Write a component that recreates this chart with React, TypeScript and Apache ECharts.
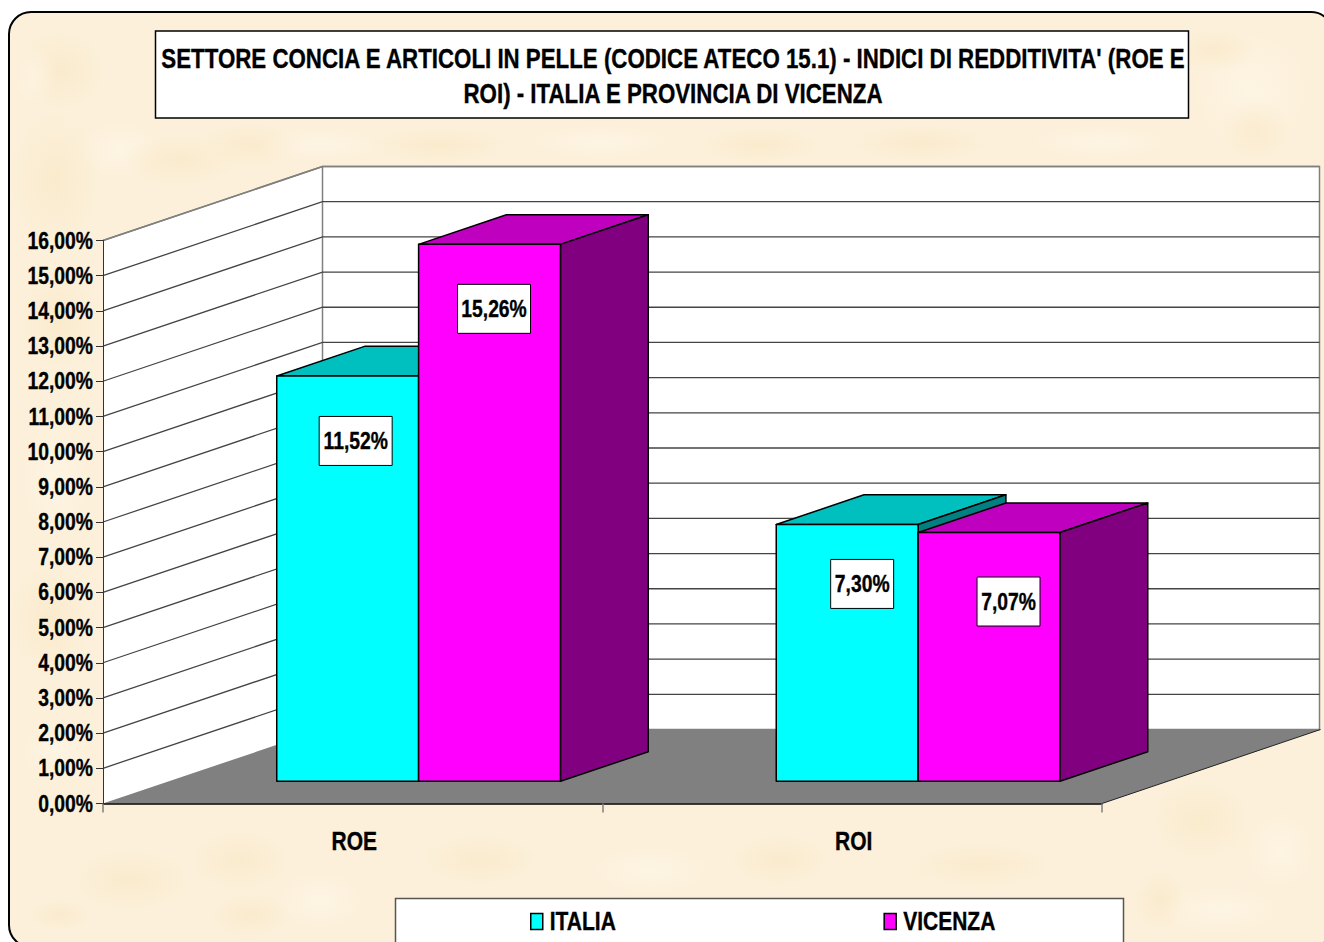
import React, { useEffect, useRef } from "react";
import * as echarts from "echarts";

const categories = ["ROE", "ROI"];
const italiaValues = [11.52, 7.3];
const vicenzaValues = [15.26, 7.07];
const yTicks = [1, 2, 3, 4, 5, 6, 7, 8, 9, 10, 11, 12, 13, 14, 15, 16];
const titleText =
  "SETTORE CONCIA E ARTICOLI IN PELLE (CODICE ATECO 15.1) - INDICI DI REDDITIVITA' (ROE E\nROI) - ITALIA E PROVINCIA DI VICENZA";

const FONT = '"Liberation Sans", Arial, sans-serif';
const SQUEEZE = 0.84;
const TITLE_SQUEEZE = 0.826;
const DX = 219.5;
const DY = -74;
const NEAR = 0.3;
const FAR = 0.7;
const BAR_RATIO = 0.284;
const italiaNudge = [[8, 65], [15, 59.5]];
const vicenzaNudge = [[4.5, 64.5], [19.5, 69]];

const fmt = (v: number) => v.toFixed(2).replace(".", ",") + "%";

// soft parchment mottling: [cx, cy, rx, ry, colour]
const DARK = "rgba(247,225,180,0.35)";
const LIGHT = "rgba(255,250,240,0.4)";
const blobs: [number, number, number, number, string][] = [
  [60, 70, 45, 40, DARK], [35, 75, 22, 30, LIGHT], [55, 180, 45, 70, DARK], [120, 150, 40, 30, LIGHT],
  [180, 160, 60, 25, DARK], [250, 145, 50, 22, DARK], [320, 145, 60, 18, LIGHT], [440, 145, 70, 18, DARK],
  [600, 142, 70, 18, LIGHT], [760, 145, 60, 18, DARK], [920, 143, 70, 18, DARK], [1100, 142, 70, 18, LIGHT],
  [1250, 90, 60, 60, LIGHT], [1255, 130, 35, 30, DARK], [1215, 50, 40, 20, DARK], [60, 320, 40, 50, DARK],
  [55, 480, 35, 60, LIGHT], [50, 620, 40, 60, DARK], [55, 750, 35, 30, LIGHT], [240, 860, 50, 30, DARK],
  [130, 880, 60, 30, DARK], [320, 900, 45, 30, LIGHT], [250, 915, 40, 22, DARK], [480, 860, 60, 25, DARK],
  [650, 870, 60, 25, LIGHT], [780, 860, 50, 25, DARK], [980, 865, 70, 22, DARK], [1200, 820, 50, 40, DARK],
  [1280, 850, 35, 40, LIGHT], [1220, 910, 60, 25, LIGHT], [1160, 900, 25, 30, DARK], [60, 915, 30, 15, DARK],
];

function renderWalls(params: any) {
  const { x, y, width, height } = params.coordSys;
  const b = y + height;
  const r = x + width;
  return {
    type: "group",
    children: [
      {
        type: "polygon",
        shape: { points: [[x, y], [x + DX, y + DY], [x + DX, b + DY], [x, b]] },
        style: { fill: "#fff" },
      },
      {
        type: "rect",
        shape: { x: x + DX, y: y + DY, width: width - 2, height: height },
        style: { fill: "#fff", stroke: "#808080", lineWidth: 1.5 },
      },
      {
        type: "polyline",
        shape: { points: [[x, y], [x + DX, y + DY]] },
        style: { fill: "none", stroke: "#808080", lineWidth: 1.5 },
      },
      {
        type: "polygon",
        shape: { points: [[x, b], [r, b], [r + DX - 1, b + DY], [x + DX, b + DY]] },
        style: { fill: "#808080" },
      },
      {
        type: "polyline",
        shape: { points: [[r, b], [r + DX - 1, b + DY]] },
        style: { fill: "none", stroke: "#222", lineWidth: 1 },
      },
    ],
  };
}

function renderGrid(params: any, api: any) {
  const p = api.coord([0, api.value(1)]);
  const x = params.coordSys.x;
  const r = x + params.coordSys.width - 2;
  const yy = p[1];
  return {
    type: "polyline",
    shape: { points: [[x, yy], [x + DX, yy + DY], [r + DX, yy + DY]] },
    style: {
      fill: "none",
      stroke: api.value(1) === 16 ? "#808080" : "#444",
      lineWidth: api.value(1) === 16 ? 1.5 : 1.3,
    },
  };
}

function barRenderer(side: number, front: string, top: string, right: string, nudges: number[][]) {
  return (params: any, api: any) => {
    const idx = api.value(0);
    const v = api.value(1);
    const base = api.coord([idx, 0]);
    const head = api.coord([idx, v]);
    const w = api.size([1, 0])[0] * BAR_RATIO;
    const xl = base[0] + side * w + NEAR * DX;
    const xr = xl + w;
    const yb = base[1] + NEAR * DY;
    const yt = head[1] + NEAR * DY;
    const ox = (FAR - NEAR) * DX;
    const oy = (FAR - NEAR) * DY;
    const line = { stroke: "#000", lineWidth: 1.5, lineJoin: "round" };
    const n = nudges[params.dataIndex];
    const label = fmt(v);
    const boxW = label.length === 6 ? 73 : 63;
    const cx = (xl + xr) / 2 + n[0];
    const cy = yt + n[1];
    return {
      type: "group",
      children: [
        { type: "polygon", shape: { points: [[xl, yt], [xl + ox, yt + oy], [xr + ox, yt + oy], [xr, yt]] }, style: { fill: top, ...line } },
        { type: "polygon", shape: { points: [[xr, yt], [xr + ox, yt + oy], [xr + ox, yb + oy], [xr, yb]] }, style: { fill: right, ...line } },
        { type: "rect", shape: { x: xl, y: yt, width: w, height: yb - yt }, style: { fill: front, ...line } },
        { type: "rect", shape: { x: cx - boxW / 2, y: cy - 24.5, width: boxW, height: 49 }, style: { fill: "#fff", stroke: "#000", lineWidth: 1 } },
        {
          type: "text",
          x: cx,
          y: cy,
          style: { text: label, font: `bold 23px ${FONT}`, fill: "#000", align: "center", verticalAlign: "middle" },
        },
      ],
    };
  };
}

// The reference's type is Arial stretched narrow: every text is squeezed around its own anchor.
function squeezeTexts(root: HTMLElement) {
  root.querySelectorAll("svg text").forEach((t) => {
    if (t.getAttribute("data-sq")) return;
    const x = t.getAttribute("x") || "0";
    const old = t.getAttribute("transform") || "";
    const isTitle = /27px/.test(t.getAttribute("style") || "");
    const s = isTitle ? TITLE_SQUEEZE : SQUEEZE;
    t.setAttribute("transform", `${old} translate(${x},0) scale(${s},1) translate(${-parseFloat(x)},0)`);
    t.setAttribute("stroke", "#000");
    t.setAttribute("stroke-width", "0.35");
    t.setAttribute("data-sq", "1");
  });
}

export default function App() {
  const ref = useRef<HTMLDivElement>(null);
  useEffect(() => {
    const chart = echarts.init(ref.current!, undefined, { renderer: "svg" });
    chart.setOption({
      animation: false,
      title: {
        text: titleText,
        left: 668,
        top: 36,
        textAlign: "center",
        textStyle: { fontFamily: FONT, fontWeight: "bold", fontSize: 27, lineHeight: 35, color: "#000" },
      },
      legend: {
        left: 530,
        top: 909,
        padding: 0,
        itemGap: 255,
        itemWidth: 12,
        itemHeight: 16,
        icon: "rect",
        itemStyle: { borderColor: "#000", borderWidth: 1.5 },
        textStyle: { fontFamily: FONT, fontWeight: "bold", fontSize: 25, color: "#000", padding: [0, 0, 0, 2] },
        data: ["ITALIA", "VICENZA"],
      },
      grid: { left: 103, top: 240.5, width: 999, height: 563 },
      xAxis: {
        type: "category",
        data: categories,
        z: 5,
        axisLine: { lineStyle: { color: "#000", width: 1.5 } },
        axisTick: { show: true, alignWithLabel: false, length: 9, lineStyle: { color: "#808080", width: 1.5 } },
        axisLabel: { margin: 25, padding: [0, 0, 0, 3], fontFamily: FONT, fontWeight: "bold", fontSize: 25, color: "#000" },
      },
      yAxis: {
        type: "value",
        min: 0,
        max: 16,
        interval: 1,
        z: 5,
        splitLine: { show: false },
        axisLine: { show: true, lineStyle: { color: "#333", width: 1 } },
        axisTick: { show: true, length: 7, lineStyle: { color: "#333", width: 1 } },
        axisLabel: { margin: 10, padding: [2, 0, 0, 0], formatter: (v: number) => fmt(v), fontFamily: FONT, fontWeight: "bold", fontSize: 23, color: "#000" },
      },
      series: [
        { type: "custom", name: "walls", z: 1, renderItem: renderWalls, encode: { x: 0, y: 1 }, data: [[0, 0]], silent: true },
        { type: "custom", name: "grid", z: 2, renderItem: renderGrid, encode: { x: 0, y: 1 }, data: yTicks.map((v) => [0, v]), silent: true },
        {
          type: "custom", name: "ITALIA", z: 3,
          itemStyle: { color: "#00FFFF" },
          renderItem: barRenderer(-1, "#00FFFF", "#00BFBF", "#008080", italiaNudge),
          encode: { x: 0, y: 1 },
          data: italiaValues.map((v, i) => [i, v]),
        },
        {
          type: "custom", name: "VICENZA", z: 4,
          itemStyle: { color: "#FF00FF" },
          renderItem: barRenderer(0, "#FF00FF", "#BF00BF", "#800080", vicenzaNudge),
          encode: { x: 0, y: 1 },
          data: vicenzaValues.map((v, i) => [i, v]),
        },
      ],
      graphic: [
        { type: "rect", z: -10, shape: { x: 9, y: 12, width: 1324, height: 935, r: 22 }, style: { fill: "#FCF0DA", stroke: "#000", lineWidth: 2 } },
        ...blobs.map(([cx, cy, rx, ry, c]) => ({
          type: "ellipse",
          z: -9,
          shape: { cx, cy, rx, ry },
          style: {
            fill: {
              type: "radial", x: 0.5, y: 0.5, r: 0.5,
              colorStops: [{ offset: 0, color: c }, { offset: 1, color: c.replace(/[\d.]+\)$/, "0)") }],
            },
          },
        })),
        { type: "rect", z: 1, shape: { x: 155.5, y: 31, width: 1033, height: 87 }, style: { fill: "#fff", stroke: "#000", lineWidth: 1.5 } },
        { type: "rect", z: 1, shape: { x: 395.5, y: 898.5, width: 728, height: 60 }, style: { fill: "#fff", stroke: "#555", lineWidth: 1.5 } },
      ],
    });
    squeezeTexts(ref.current!);
    chart.on("finished", () => squeezeTexts(ref.current!));
    return () => chart.dispose();
  }, []);
  return <div ref={ref} style={{ position: "absolute", left: 0, top: 0, width: 1324, height: 942 }} />;
}
